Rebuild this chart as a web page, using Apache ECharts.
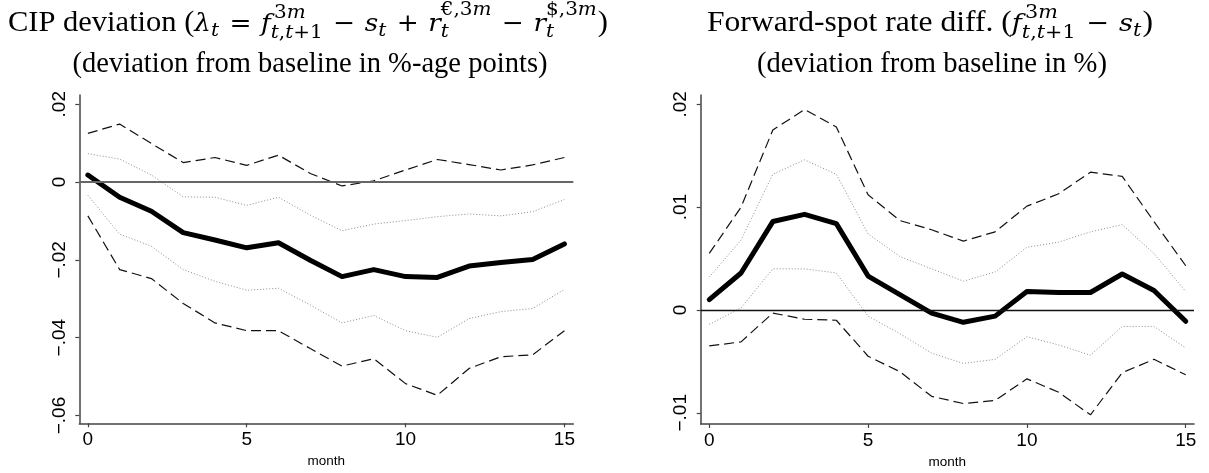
<!DOCTYPE html>
<html>
<head>
<meta charset="utf-8">
<script src="https://cdn.jsdelivr.net/npm/echarts@6/dist/echarts.min.js"></script>
<style>
html,body{margin:0;padding:0;background:#fff;}
#chart{width:1209px;height:473px;}
</style>
</head>
<body>
<div id="chart"></div>
<script>
// ---- data ----
const months = [0,1,2,3,4,5,6,7,8,9,10,11,12,13,14,15];
const xTicks = [0,5,10,15];
const cipTicks = [-0.06,-0.04,-0.02,0,0.02];
const fsTicks = [-0.01,0,0.01,0.02];

const cipMean = [0.0018,-0.0039,-0.0075,-0.0130,-0.0149,-0.0169,-0.0156,-0.0201,-0.0243,-0.0225,-0.0243,-0.0245,-0.0216,-0.0207,-0.0199,-0.0159];
const cipUp95 = [0.0125,0.0149,0.0099,0.0050,0.0063,0.0043,0.0069,0.0022,-0.0010,0.0003,0.0031,0.0058,0.0045,0.0031,0.0044,0.0063];
const cipUp68 = [0.0073,0.0059,0.0018,-0.0038,-0.0039,-0.0060,-0.0039,-0.0085,-0.0125,-0.0108,-0.0099,-0.0089,-0.0082,-0.0087,-0.0076,-0.0045];
const cipLo68 = [-0.0034,-0.0134,-0.0165,-0.0225,-0.0255,-0.0278,-0.0273,-0.0316,-0.0362,-0.0343,-0.0382,-0.0399,-0.0351,-0.0333,-0.0325,-0.0276];
const cipLo95 = [-0.0087,-0.0225,-0.0248,-0.0312,-0.0362,-0.0382,-0.0382,-0.0428,-0.0473,-0.0454,-0.0518,-0.0548,-0.0479,-0.0449,-0.0444,-0.0382];

const fsMean = [0.0010,0.0036,0.0086,0.0093,0.0084,0.0033,0.0015,-0.0003,-0.0012,-0.0006,0.0018,0.0017,0.0017,0.0035,0.0019,-0.0011];
const fsUp95 = [0.0055,0.0100,0.0175,0.0195,0.0178,0.0112,0.0087,0.0078,0.0067,0.0076,0.0101,0.0113,0.0134,0.0130,0.0086,0.0043];
const fsUp68 = [0.0032,0.0068,0.0132,0.0146,0.0132,0.0074,0.0052,0.0040,0.0028,0.0037,0.0061,0.0066,0.0076,0.0083,0.0055,0.0018];
const fsLo68 = [-0.0014,0.0002,0.0040,0.0040,0.0036,-0.0006,-0.0023,-0.0042,-0.0052,-0.0048,-0.0026,-0.0034,-0.0044,-0.0016,-0.0016,-0.0037];
const fsLo95 = [-0.0035,-0.0031,-0.0003,-0.0009,-0.0010,-0.0045,-0.0060,-0.0084,-0.0091,-0.0088,-0.0067,-0.0080,-0.0102,-0.0061,-0.0048,-0.0063];

const xName = 'month';

// ---- title layout (math-like text with sub/superscripts) ----
const TXT = '"Liberation Serif", "Times New Roman", serif';
const MATH = '"DejaVu Serif", "Liberation Serif", serif';
const MAIN = 29, MATHSZ = 25, SCRIPT = 19;
const mctx = document.createElement('canvas').getContext('2d');
// piece: [text, kind] kind: 't' text roman, 'mi' math italic, 'mr' math roman
function fontOf(kind, size){
  if (kind === 't') return size + 'px ' + TXT;
  if (kind === 'mi') return 'italic ' + size + 'px ' + MATH;
  return size + 'px ' + MATH;
}
function sizeOf(kind){ return kind === 't' ? MAIN : MATHSZ; }
function w(text, font){ mctx.font = font; return mctx.measureText(text).width; }

function layoutLine(items, cx, baseline, target){
  // items: [text, kind] | {op:'='} | {sup:[...], sub:[...], supUp, subDown}
  const els = [];
  let x = 0;
  const put = (text, font, size, xx, base) => {
    els.push({type:'text', silent:true, x: xx, y: base - size*0.34,
      style:{text:text, font: font, fill:'#000', align:'left', verticalAlign:'middle'}});
  };
  const OPPAD = 9;
  items.forEach(it => {
    if (Array.isArray(it)) {
      const f = fontOf(it[1], sizeOf(it[1]));
      put(it[0], f, sizeOf(it[1]), x, baseline); x += w(it[0], f);
    } else if (it.op) {
      x += OPPAD;
      const f = fontOf('mr', MATHSZ);
      put(it.op, f, MATHSZ, x, baseline); x += w(it.op, f) + OPPAD;
    } else {
      let ww = 0;
      if (it.sup) { let xx = x + (it.supShift || 0); it.sup.forEach(p => { const f = fontOf(p[1], SCRIPT); put(p[0], f, SCRIPT, xx, baseline - it.supUp); xx += w(p[0], f); }); ww = Math.max(ww, xx - x); }
      if (it.sub) { let xx = x; it.sub.forEach(p => { const f = fontOf(p[1], SCRIPT); put(p[0], f, SCRIPT, xx, baseline + it.subDown); xx += w(p[0], f); }); ww = Math.max(ww, xx - x); }
      x += ww + 1;
    }
  });
  const natural = x;
  const sx = target ? target / natural : 1;
  return {type:'group', x: cx - natural*sx/2, y: 0, scaleX: sx, children: els};
}
const subTT1 = [['t','mi'],[',','mr'],['t','mi'],['+1','mr']];
const leftLine1 = [
  ['CIP deviation (','t'], ['λ','mi'], {sub:[['t','mi']], subDown:5},
  {op:'='}, ['f','mi'], {sup:[['3','mr'],['m','mi']], sub:subTT1, supUp:13, subDown:7, supShift:3},
  {op:'−'}, ['s','mi'], {sub:[['t','mi']], subDown:5},
  {op:'+'}, ['r','mi'], {sup:[['€,3','mr'],['m','mi']], sub:[['t','mi']], supUp:16, subDown:6},
  {op:'−'}, ['r','mi'], {sup:[['$,3','mr'],['m','mi']], sub:[['t','mi']], supUp:16, subDown:6},
  [')','t']
];
const leftLine2 = [['(deviation from baseline in %-age points)','t']];
const rightLine1 = [
  ['Forward-spot rate diff. (','t'], ['f','mi'], {sup:[['3','mr'],['m','mi']], sub:subTT1, supUp:13, subDown:7, supShift:3},
  {op:'−'}, ['s','mi'], {sub:[['t','mi']], subDown:5}, [')','t']
];
const rightLine2 = [['(deviation from baseline in %)','t']];

const graphics = [
  layoutLine(leftLine1, 308, 33, 600), layoutLine(leftLine2, 310, 74, 475),
  layoutLine(rightLine1, 930, 33, 446), layoutLine(rightLine2, 932, 74, 350)
];

// ---- chart ----
const SANS = '"Liberation Sans", Arial, Helvetica, sans-serif';
function stataFmt(v){
  if (Math.abs(v) < 1e-12) return '0';
  const s = Math.abs(v).toFixed(2).replace(/^0/, '');
  return (v < 0 ? '\u2212' : '') + s;
}
const pairs = arr => months.map((m,i)=>[m, arr[i]]);

function xAxisCfg(gi, min, max){
  return {type:'value', gridIndex:gi, min:min, max:max,
    name:xName, nameLocation:'middle', nameGap:31,
    nameTextStyle:{fontFamily:SANS, fontSize:13.5, color:'#000'},
    axisLine:{onZero:false, lineStyle:{color:'#444', width:1.5}},
    axisTick:{show:true, length:4, customValues:xTicks, lineStyle:{color:'#444', width:1.2}},
    axisLabel:{customValues:xTicks, fontFamily:SANS, fontSize:19, color:'#000', margin:7},
    splitLine:{show:false}};
}
function yAxisCfg(gi, min, max, ticks){
  return {type:'value', gridIndex:gi, min:min, max:max,
    axisLine:{show:true, onZero:false, lineStyle:{color:'#444', width:1.5}},
    axisTick:{show:true, length:4, customValues:ticks, lineStyle:{color:'#444', width:1.2}},
    axisLabel:{customValues:ticks, rotate:90, fontFamily:SANS, fontSize:19, color:'#000', margin:10, formatter:stataFmt},
    splitLine:{show:false}};
}
function bands(gi, up95, up68, lo68, lo95, mean, zeroColor, zeroWidth){
  const base = {type:'line', xAxisIndex:gi, yAxisIndex:gi, symbol:'none', silent:true, animation:false};
  return [
    Object.assign({}, base, {data:pairs(lo95), lineStyle:{color:'#111', width:1.2, type:[10,5]},
      markLine:{silent:true, symbol:'none', label:{show:false}, animation:false,
        lineStyle:{color:zeroColor, width:zeroWidth, type:'solid'}, data:[{yAxis:0}]}}),
    Object.assign({}, base, {data:pairs(up95), lineStyle:{color:'#111', width:1.2, type:[10,5]}}),
    Object.assign({}, base, {data:pairs(lo68), lineStyle:{color:'#8c8c8c', width:1, type:[1,2]}}),
    Object.assign({}, base, {data:pairs(up68), lineStyle:{color:'#8c8c8c', width:1, type:[1,2]}}),
    Object.assign({}, base, {data:pairs(mean), lineStyle:{color:'#000', width:5, cap:'round', join:'round'}})
  ];
}

const chart = echarts.init(document.getElementById('chart'), null, {renderer:'canvas'});
chart.setOption({
  backgroundColor:'#fff',
  animation:false,
  grid:[
    {left:79.3, top:95, width:494, height:328.3, outerBoundsMode:'none', containLabel:false},
    {left:700.7, top:95, width:493.3, height:329, outerBoundsMode:'none', containLabel:false}
  ],
  xAxis:[xAxisCfg(0, -0.27, 15.28), xAxisCfg(1, -0.27, 15.26)],
  yAxis:[yAxisCfg(0, -0.0620, 0.02237, cipTicks), yAxisCfg(1, -0.01109, 0.02091, fsTicks)],
  graphic: graphics,
  series: [].concat(
    bands(0, cipUp95, cipUp68, cipLo68, cipLo95, cipMean, '#666', 2),
    bands(1, fsUp95, fsUp68, fsLo68, fsLo95, fsMean, '#111', 1.3)
  )
});
</script>
</body>
</html>
